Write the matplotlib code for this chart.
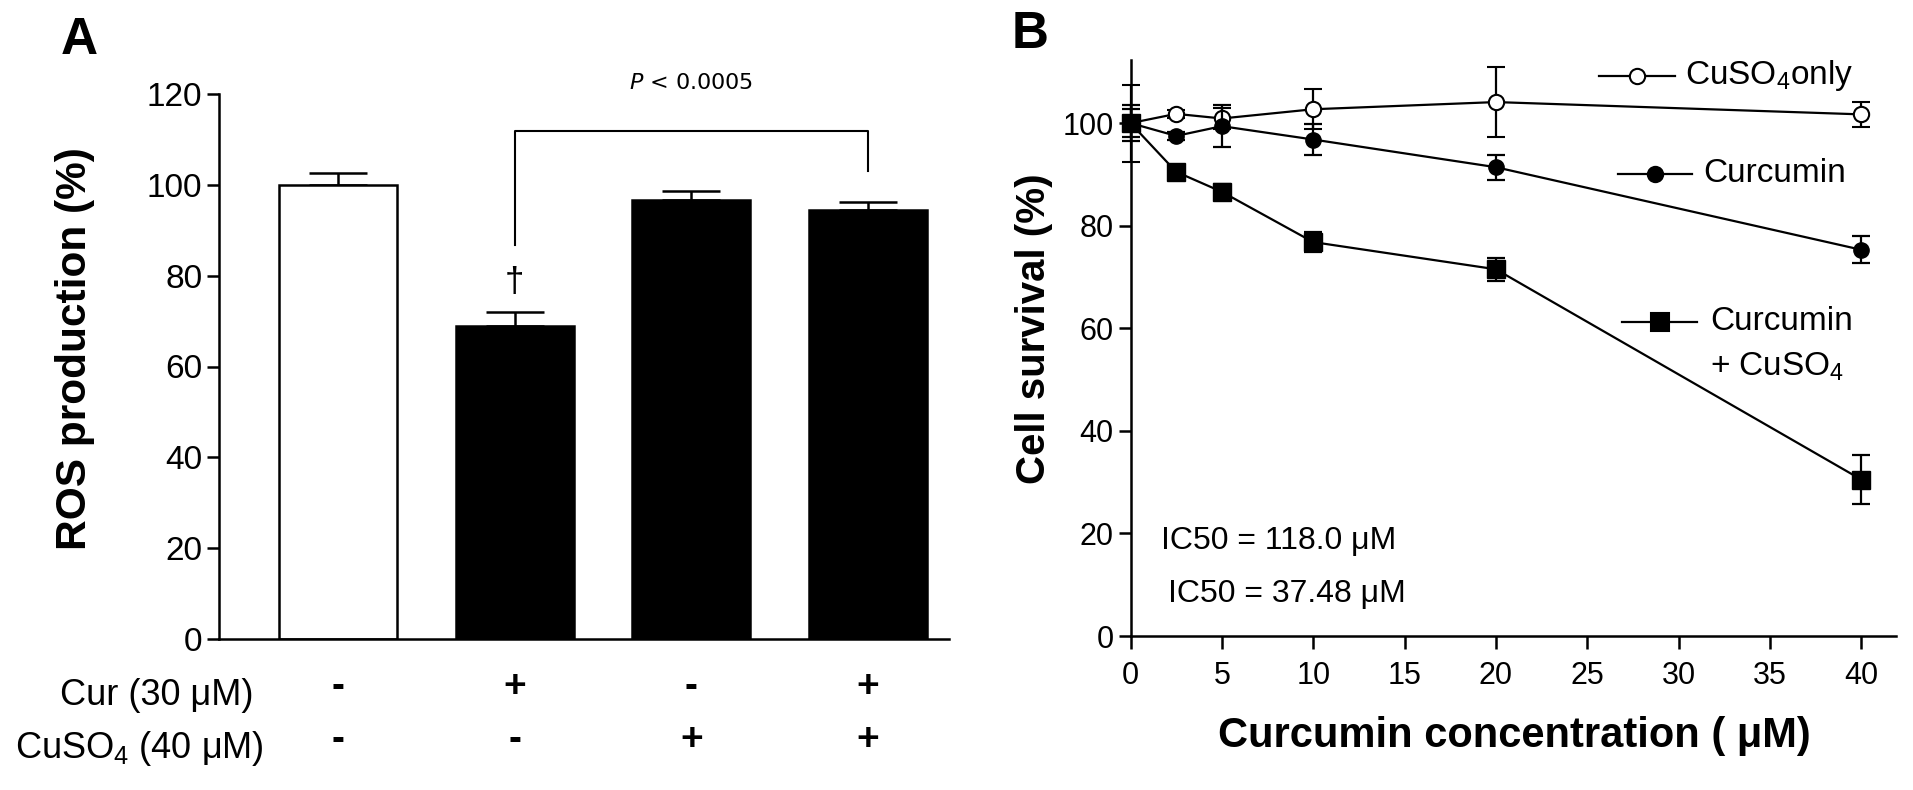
import numpy as np
import matplotlib
matplotlib.use('Agg')
import matplotlib.pyplot as plt
from matplotlib.lines import Line2D

plt.rcParams['font.family'] = ['Liberation Sans', 'DejaVu Sans']
plt.rcParams['mathtext.fontset'] = 'custom'
plt.rcParams['mathtext.rm'] = 'Liberation Sans'
plt.rcParams['mathtext.it'] = 'Liberation Sans:italic'
plt.rcParams['mathtext.bf'] = 'Liberation Sans:bold'

# panel A data
ros_mean = [100.0, 68.9, 96.6, 94.5]
ros_err = [2.7, 3.0, 2.0, 1.8]
ros_colors = ['white', 'black', 'black', 'black']
cur_signs = ['-', '+', '-', '+']
cuso4_signs = ['-', '-', '+', '+']

# panel B data
conc = [0, 2.5, 5, 10, 20, 40]
cuso4_only = [100.0, 101.8, 100.9, 102.7, 104.1, 101.7]
cuso4_only_err = [7.5, 0.8, 2.0, 3.9, 6.8, 2.5]
curcumin = [100.0, 97.5, 99.4, 96.8, 91.4, 75.3]
curcumin_err = [3.5, 0.8, 4.1, 3.0, 2.4, 2.6]
combo = [100.0, 90.5, 86.6, 76.8, 71.5, 30.5]
combo_err = [2.7, 1.0, 1.6, 2.0, 2.2, 4.7]

W, H = 1913, 790
fig = plt.figure(figsize=(W / 100, H / 100), dpi=100)


def px(x, y):
    return x / W, 1 - y / H


def style_axes(ax, tick_size, pad):
    for s in ['top', 'right']:
        ax.spines[s].set_visible(False)
    for s in ['left', 'bottom']:
        ax.spines[s].set_linewidth(1.8)
    ax.tick_params(direction='out', length=9, width=1.8, labelsize=tick_size, pad=pad)


# ---- panel A ----
axA = fig.add_axes([219 / W, 1 - 639 / H, (949 - 219) / W, (639 - 94) / H])
xa = np.arange(len(ros_mean))
axA.bar(xa, ros_mean, width=0.668, color=ros_colors, edgecolor='black', linewidth=1.8, zorder=2)
axA.errorbar(xa, ros_mean, yerr=[np.zeros(len(ros_err)), ros_err], fmt='none',
             ecolor='black', elinewidth=1.8, capsize=21, capthick=1.8, zorder=1)
axA.set_xlim(-0.673, 3.458)
axA.set_ylim(0, 120)
axA.set_yticks(range(0, 121, 20))
axA.set_xticks([])
style_axes(axA, 24, 3)
fig.text(*px(75, 349), 'ROS production (%)', rotation=90, ha='center', va='center',
         fontsize=30.5, fontweight='bold')

# significance bracket
axA.plot([1, 1, 3, 3], [86.8, 111.9, 111.9, 103.0], color='black', lw=1.5, clip_on=False)
axA.text(2, 122.5, '$\\it{P}$ < 0.0005', ha='center', va='center', fontsize=16,
         family='DejaVu Sans', math_fontfamily='dejavusans')
axA.text(1, 78.5, '\u2020', ha='center', va='center', fontsize=25)

# treatment table under the bars
fig.text(*px(254, 705), 'Cur (30 \u03bcM)', ha='right', va='baseline', fontsize=26)
fig.text(*px(264, 758), 'CuSO$_4$ (40 \u03bcM)', ha='right', va='baseline', fontsize=26)
for i in range(len(ros_mean)):
    xf = axA.transData.transform((xa[i], 0))[0] / W
    fig.text(xf, 1 - 697 / H, cur_signs[i], ha='center', va='baseline', fontsize=28, fontweight='bold')
    fig.text(xf, 1 - 750 / H, cuso4_signs[i], ha='center', va='baseline', fontsize=28, fontweight='bold')

fig.text(*px(79, 41), 'A', ha='center', va='center', fontsize=37, fontweight='bold')

# ---- panel B ----
axB = fig.add_axes([1130.5 / W, 1 - 636 / H, (1896 - 1130.5) / W, (636 - 59.5) / H])
kw = dict(color='black', lw=1.6, elinewidth=1.6, capsize=6.5, capthick=1.6, clip_on=False)
axB.errorbar(conc, cuso4_only, yerr=cuso4_only_err, marker='o', ms=11, mfc='white',
             mec='black', mew=1.5, zorder=3, **kw)
axB.errorbar(conc, curcumin, yerr=curcumin_err, marker='o', ms=11, mfc='black',
             mec='black', zorder=4, **kw)
axB.errorbar(conc, combo, yerr=combo_err, marker='s', ms=13, mfc='black',
             mec='black', zorder=5, **kw)
axB.set_xlim(0, 41.9)
axB.set_ylim(0, 112.4)
axB.set_xticks(range(0, 41, 5))
axB.set_yticks(range(0, 101, 20))
style_axes(axB, 22, 3)
axB.tick_params(axis='x', pad=9)
fig.text(*px(1514, 736), 'Curcumin concentration ( \u03bcM)', ha='center', va='center',
         fontsize=30, fontweight='bold')
fig.text(*px(1034, 329), 'Cell survival (%)', rotation=90, ha='center', va='center',
         fontsize=29, fontweight='bold')

# hand-placed legend
legend_rows = [
    (1599, 1675, 75.6, 'o', 'white', 11, 'CuSO$_4$only', 1685),
    (1618, 1692, 174, 'o', 'black', 11, 'Curcumin', 1703),
    (1622, 1697, 322, 's', 'black', 13, 'Curcumin', 1710),
]
for x0, x1, y, mk, fc, ms, label, tx in legend_rows:
    a, b = px(x0, y), px(x1, y)
    fig.add_artist(Line2D([a[0], b[0]], [a[1], b[1]], color='black', lw=1.6))
    m = px((x0 + x1) / 2, y)
    fig.add_artist(Line2D([m[0]], [m[1]], marker=mk, ms=ms, mfc=fc, mec='black', mew=1.5))
    fig.text(*px(tx, y), label, ha='left', va='center', fontsize=24)
fig.text(*px(1710, 367), '+ CuSO$_4$', ha='left', va='center', fontsize=24)

fig.text(*px(1161, 541), 'IC50 = 118.0 \u03bcM', ha='left', va='center', fontsize=23)
fig.text(*px(1168, 594), 'IC50 = 37.48 \u03bcM', ha='left', va='center', fontsize=23)

fig.text(*px(1030, 34), 'B', ha='center', va='center', fontsize=37, fontweight='bold')

fig.savefig('out.png', dpi=100)
